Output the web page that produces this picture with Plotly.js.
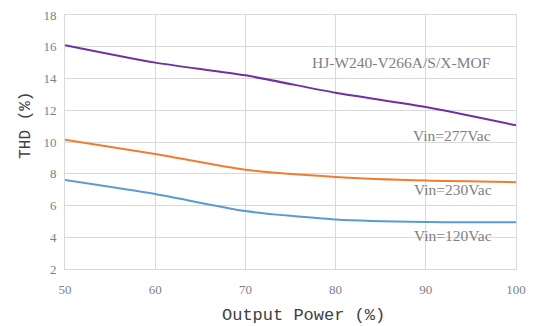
<!DOCTYPE html>
<html>
<head>
<meta charset="utf-8">
<script src="https://cdn.plot.ly/plotly-3.0.1.min.js"></script>
<style>html,body{margin:0;padding:0;background:#fff;}#chart{width:534px;height:326px;}</style>
</head>
<body>
<div id="chart"></div>
<script>
const outputPower = [50, 60, 70, 80, 90, 100];
const thd277 = [16.1, 15.0, 14.2, 13.1, 12.2, 11.05];
const thd230 = [10.15, 9.25, 8.25, 7.8, 7.57, 7.47];
const thd120 = [7.6, 6.72, 5.65, 5.12, 4.96, 4.95];
const seriesLabels = ["Vin=277Vac", "Vin=230Vac", "Vin=120Vac"];
const modelName = "HJ-W240-V266A/S/X-MOF";
const xTitle = "Output Power (%)";
const yTitle = "THD (%)";

const serif = "Liberation Serif, DejaVu Serif, serif";
const mono = "Liberation Mono, DejaVu Sans Mono, monospace";

const mk = (y, color, name) => ({
  x: outputPower, y: y, type: "scatter", mode: "lines", name: name,
  line: {color: color, width: 2, shape: "spline", smoothing: 0.6},
  hoverinfo: "x+y"
});

const data = [
  mk(thd277, "#7030A0", seriesLabels[0]),
  mk(thd230, "#ED7D31", seriesLabels[1]),
  mk(thd120, "#5B9BD5", seriesLabels[2])
];

const ann = (x, y, text) => ({
  x: x, y: y, xref: "x", yref: "y", text: text, showarrow: false,
  font: {family: serif, size: 15.5, color: "#7f7f7f"}
});

const layout = {
  width: 534, height: 326,
  margin: {l: 65, r: 18, t: 15, b: 57},
  paper_bgcolor: "#fff", plot_bgcolor: "#fff",
  showlegend: false,
  xaxis: {
    range: [50, 100], tickvals: outputPower, ticks: "",
    showgrid: true, gridcolor: "#d9d9d9", gridwidth: 1,
    showline: true, linecolor: "#d9d9d9", mirror: true, zeroline: false,
    ticklabelstandoff: 8,
    tickfont: {family: serif, size: 13, color: "#7f7f7f"}
  },
  yaxis: {
    range: [2, 18], dtick: 2, ticks: "",
    showgrid: true, gridcolor: "#d9d9d9", gridwidth: 1,
    showline: true, linecolor: "#d9d9d9", mirror: true, zeroline: false,
    ticklabelstandoff: 5,
    tickfont: {family: serif, size: 13, color: "#7f7f7f"}
  },
  annotations: [
    ann(87.36, 14.98, modelName),
    ann(92.9, 10.38, seriesLabels[0]),
    ann(93.0, 6.98, seriesLabels[1]),
    ann(93.0, 4.08, seriesLabels[2]),
    {xref: "paper", yref: "paper", x: 0.528, y: -0.185, xanchor: "center", yanchor: "middle",
     text: xTitle, showarrow: false, font: {family: mono, size: 17, color: "#404040"}},
    {xref: "paper", yref: "paper", x: -0.087, y: 0.567, xanchor: "center", yanchor: "middle",
     textangle: -90, text: yTitle, showarrow: false, font: {family: mono, size: 16, color: "#404040"}}
  ]
};

Plotly.newPlot("chart", data, layout, {displayModeBar: false, staticPlot: true});
</script>
</body>
</html>
